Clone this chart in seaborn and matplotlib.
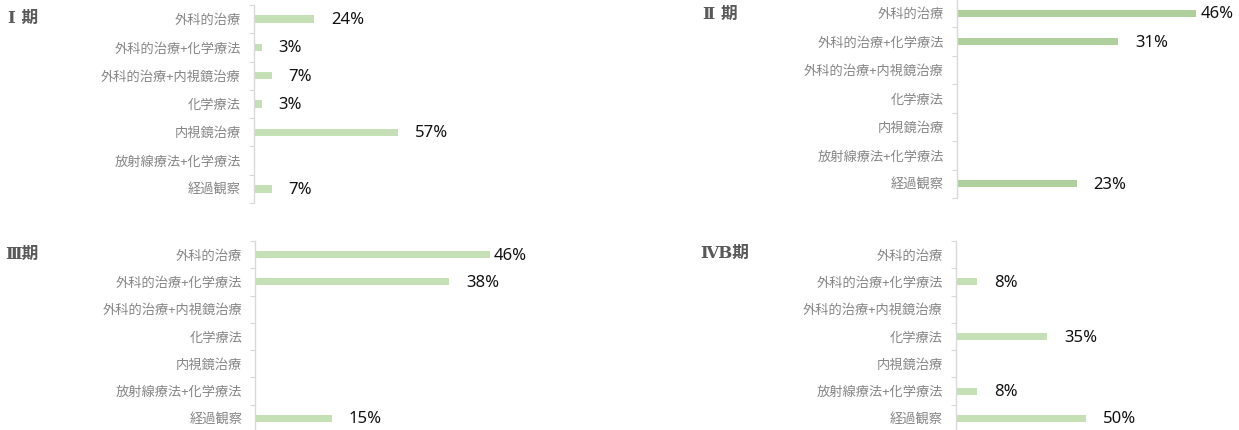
import numpy as np
import pandas as pd
import matplotlib
matplotlib.use("Agg")
import matplotlib.pyplot as plt
import seaborn as sns

# ---- data ----
categories = ["外科的治療", "外科的治療+化学療法", "外科的治療+内視鏡治療",
              "化学療法", "内視鏡治療", "放射線療法+化学療法", "経過観察"]
stage_titles = ["Ⅰ 期", "Ⅱ 期", "Ⅲ期", "ⅣB期"]
stage1 = [24, 3, 7, 3, 57, 0, 7]
stage2 = [46, 31, 0, 0, 0, 0, 23]
stage3 = [46, 38, 0, 0, 0, 0, 15]
stage4b = [0, 8, 0, 35, 0, 8, 50]
x_max = [100, 50, 50, 100]

sns.set_theme(style="white")
plt.rcParams["font.family"] = ["Noto Sans CJK JP", "DejaVu Sans"]

W, H = 1239, 430
fig = plt.figure(figsize=(W / 100, H / 100), dpi=100)
fig.patch.set_facecolor("white")

# (left, top, width, bottom) in pixels
boxes = [(254, 5, 252, 203), (957, -1, 260, 198),
         (255.5, 241, 255, 432), (956, 241, 260, 432)]
colors = ["#c5e0b4", "#afd09c", "#c5e0b4", "#c5e0b4"]
title_pos = [(8, 18), (703, 14), (5, 254), (700, 253)]
series = [stage1, stage2, stage3, stage4b]

for k in range(4):
    l, t, w, b = boxes[k]
    ax = fig.add_axes([l / W, 1 - b / H, w / W, (b - t) / H])
    df = pd.DataFrame({"cat": categories, "val": series[k]})
    sns.barplot(data=df, x="val", y="cat", orient="h", ax=ax,
                color=colors[k], width=0.26, saturation=1, linewidth=0)
    ax.set_xlim(0, x_max[k])
    ax.set_ylim(6.5, -0.5)
    ax.set_xlabel("")
    ax.set_ylabel("")
    ax.xaxis.set_visible(False)
    for s in ["top", "right", "bottom"]:
        ax.spines[s].set_visible(False)
    ax.spines["left"].set_color("#d9d9d9")
    ax.spines["left"].set_linewidth(1.0)
    ax.set_yticks(range(len(categories)))
    ax.set_yticklabels(categories, fontsize=9.5, color="#858585")
    ax.set_yticks(np.arange(-0.5, len(categories), 1), minor=True)
    ax.tick_params(axis="y", which="major", length=0, pad=9.5)
    ax.tick_params(axis="y", which="minor", length=3.6, width=0.8,
                   color="#d9d9d9", left=True)
    ax.set_facecolor("none")
    for i, v in enumerate(series[k]):
        if v <= 0:
            continue
        off = 4 if v >= 0.9 * x_max[k] else 17
        ax.annotate(f"{v}%", xy=(v, i), xytext=(off, -1),
                    textcoords="offset pixels", ha="left", va="center",
                    fontsize=12, color="#111111",
                    family=["Noto Sans", "DejaVu Sans"], annotation_clip=False)
    tx, ty = title_pos[k]
    fig.text(tx / W, 1 - ty / H, stage_titles[k], ha="left", va="center",
             fontsize=12, fontweight="bold", color="#595959",
             family=["DejaVu Serif", "Noto Sans CJK JP"])

fig.savefig("out.png", dpi=100, facecolor="white")
